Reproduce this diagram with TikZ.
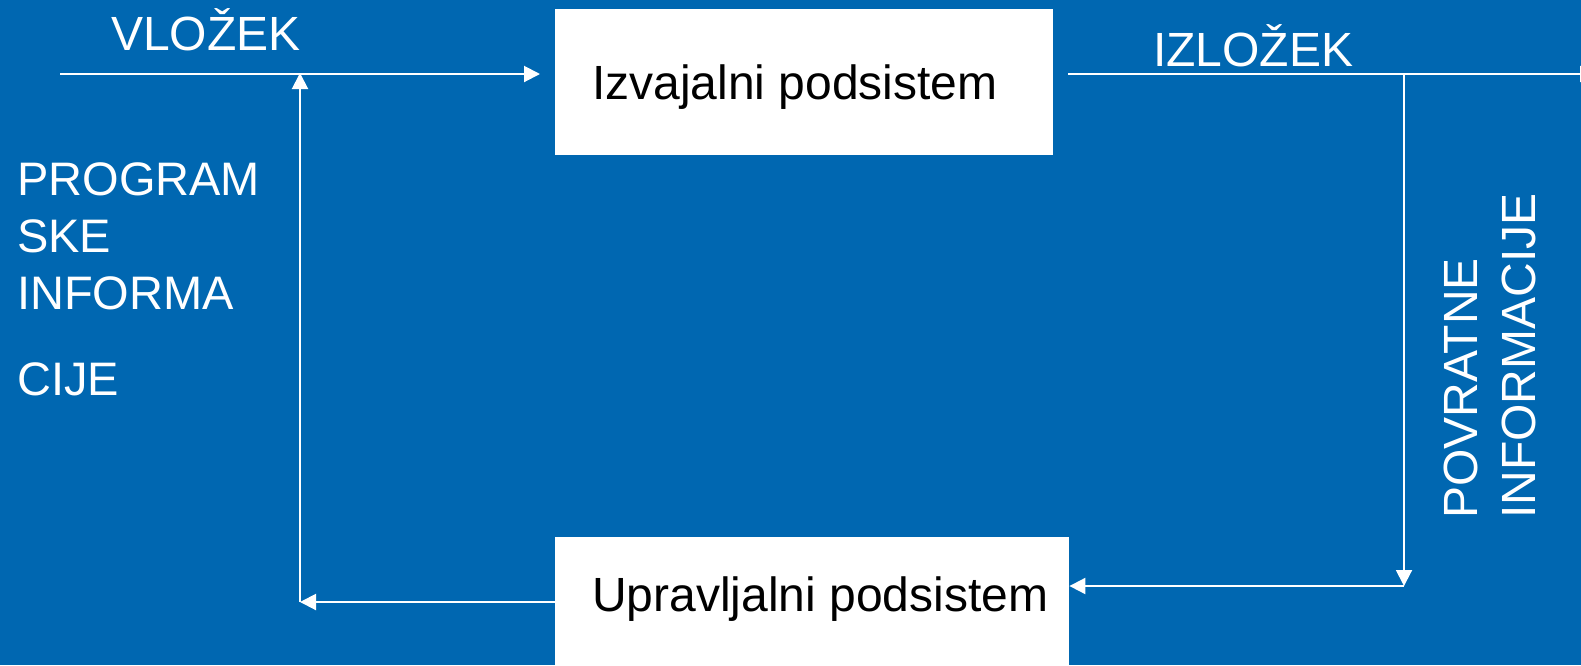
\documentclass[tikz,border=0pt]{standalone}
\usepackage{fontspec}
\setmainfont{Liberation Sans}
\usetikzlibrary{arrows.meta}
\definecolor{slideblue}{RGB}{0,103,177}
\begin{document}
\begin{tikzpicture}[x=1pt,y=-1pt,
  wire/.style={draw=white,line width=2pt},
  arr/.style={wire,-{Triangle[length=16pt,width=16pt]}},
  subsys/.style={fill=white,draw=none,inner sep=0pt},
  boxlabel/.style={inner sep=0pt,anchor=base west,text=black,font=\fontsize{48}{56}\selectfont},
  lbl/.style={inner sep=0pt,anchor=base west,text=white,font=\fontsize{48}{56}\selectfont},
  sidelbl/.style={lbl,font=\fontsize{47}{56}\selectfont}]
  % page and background
  \useasboundingbox (0,0) rectangle (1581,665);
  \clip (0,0) rectangle (1581,665);
  \fill[slideblue] (0,0) rectangle (1581,665);

  % subsystems
  \node[subsys,minimum width=498pt,minimum height=146pt,anchor=north west] (izv) at (555,9) {};
  \node[boxlabel] (izvt) at (592,99) {Izvajalni podsistem};
  \node[subsys,minimum width=514pt,minimum height=140pt,anchor=north west] (upr) at (555,537) {};
  \node[boxlabel] (uprt) at (592,611) {Upravljalni podsistem};

  % junction points
  \coordinate (inStart) at (60,74);
  \coordinate (mix) at (300,74);
  \coordinate (ctrlCorner) at (300,602);
  \coordinate (outEnd) at (1596,74);
  \coordinate (tap) at (1404,74);
  \coordinate (fbCorner) at (1404,586);

  % input into the executing subsystem
  \draw[arr,shorten >=15pt] (inStart) -- (izv.west |- inStart);
  % output
  \draw[arr,shorten <=15pt] (izv.east |- outEnd) -- (outEnd);
  % feedback to the control subsystem
  \draw[arr] (tap) -- (fbCorner);
  \draw[arr] (fbCorner) -- (upr.east |- fbCorner);
  % control information back to the input
  \draw[arr] (upr.west |- ctrlCorner) -- (ctrlCorner);
  \draw[arr] (ctrlCorner) -- ([yshift=1pt]mix);

  % labels
  \node[lbl] (vlozek) at (111,50) {VLOŽEK};
  \node[lbl] (izlozek) at (1153,66) {IZLOŽEK};
  \node[sidelbl] (p1) at (17,195) {PROGRAM};
  \node[sidelbl] (p2) at (17,252) {SKE};
  \node[sidelbl] (p3) at (17,309) {INFORMA};
  \node[sidelbl] (p4) at (17,395) {CIJE};
  \node[lbl,rotate=90] (povr) at (1477,519) {POVRATNE};
  \node[lbl,rotate=90] (info) at (1535,519) {INFORMACIJE};
\end{tikzpicture}
\end{document}
